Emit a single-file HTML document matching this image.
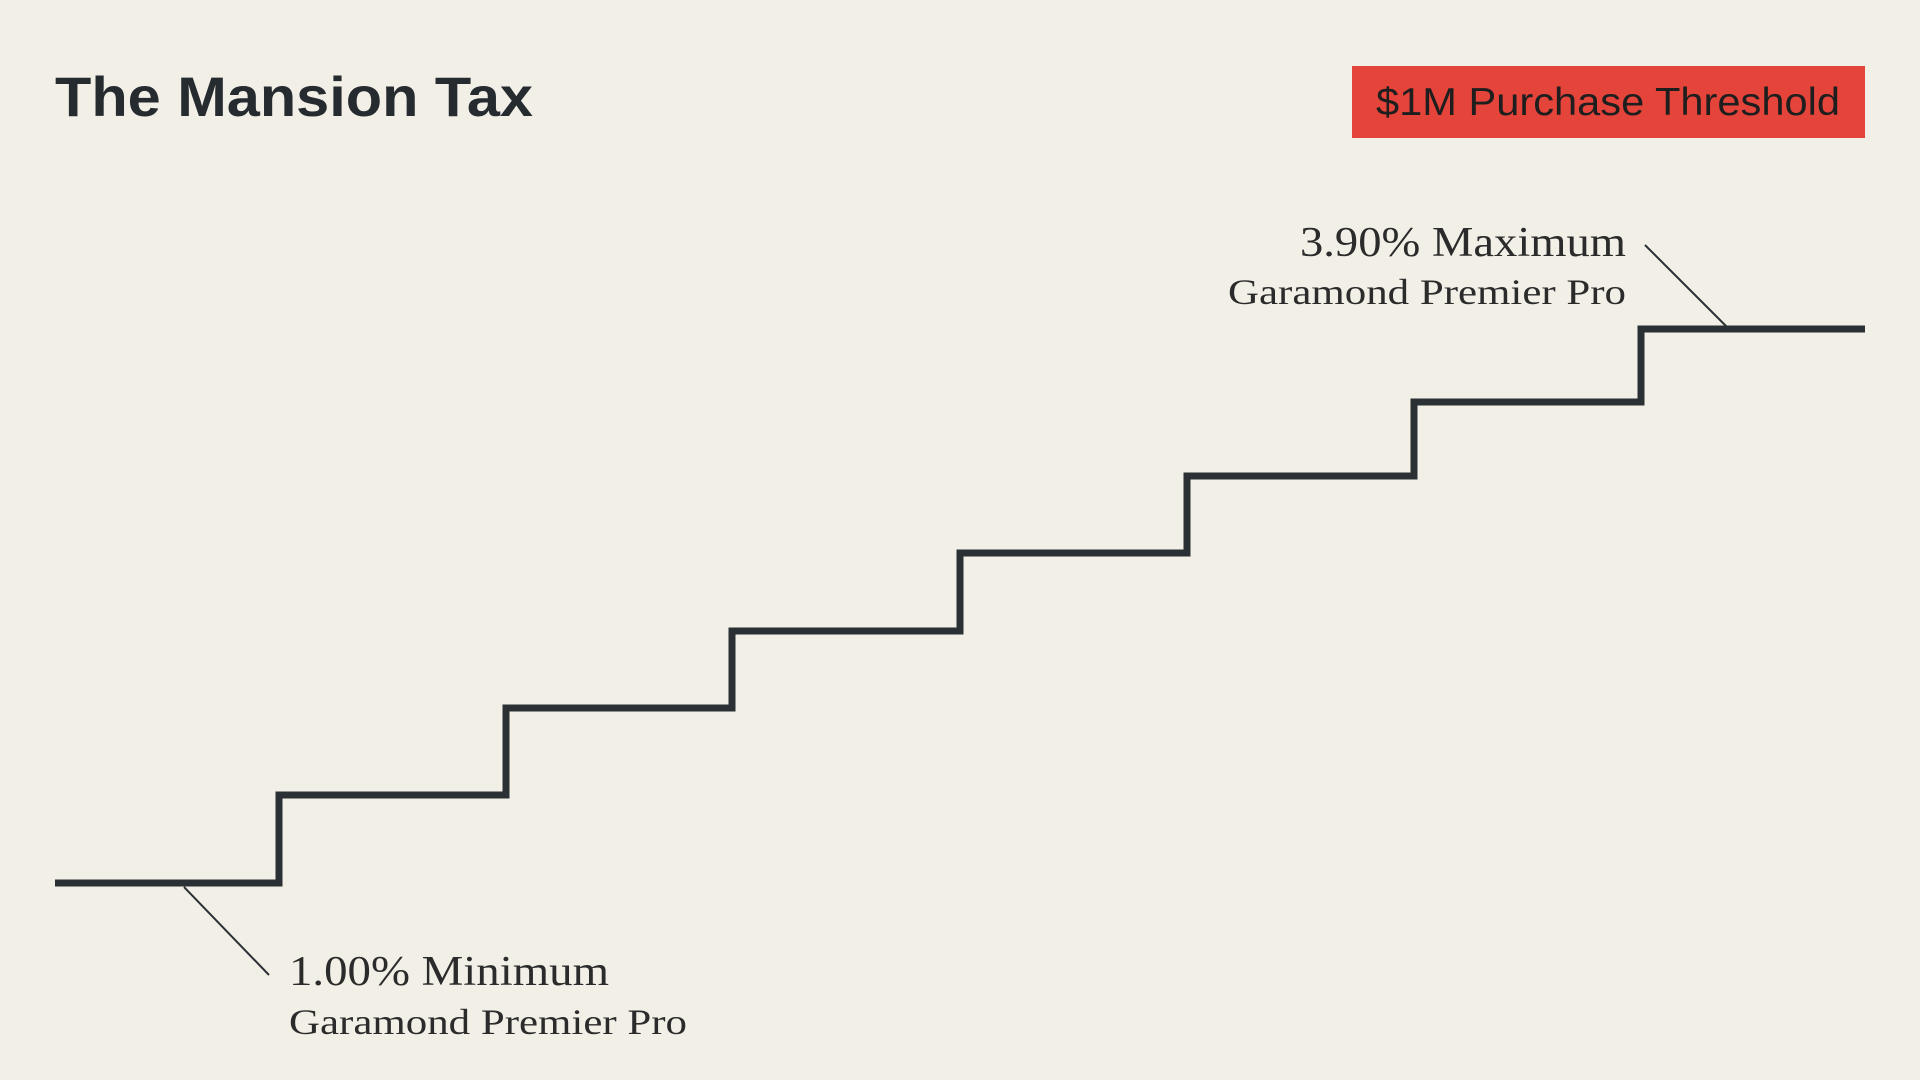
<!DOCTYPE html>
<html><head><meta charset="utf-8"><style>
html,body{margin:0;padding:0;background:#f2efe7;}
body{width:1920px;height:1080px;overflow:hidden;position:relative;}
</style></head><body>
<svg width="1920" height="1080" xmlns="http://www.w3.org/2000/svg" style="position:absolute;left:0;top:0">
<rect width="1920" height="1080" fill="#f2efe7"/>
<text x="55" y="116" font-family="Liberation Sans, sans-serif" font-weight="bold" font-size="56" fill="#262b30" textLength="478" lengthAdjust="spacingAndGlyphs">The Mansion Tax</text>
<rect x="1352" y="66" width="513" height="72" fill="#e5443a"/>
<text x="1376" y="115" font-family="Liberation Sans, sans-serif" font-size="39" fill="#1e1e1e" textLength="464" lengthAdjust="spacingAndGlyphs">$1M Purchase Threshold</text>
<polyline fill="none" stroke="#2b3035" stroke-width="7" stroke-linejoin="miter"
 points="55,883 279,883 279,795 506,795 506,708 732,708 732,631 960,631 960,553 1187,553 1187,476 1414,476 1414,402 1641,402 1641,329 1865,329"/>
<line x1="184" y1="887" x2="269" y2="975" stroke="#2b3035" stroke-width="2"/>
<line x1="1645" y1="245" x2="1728" y2="328" stroke="#2b3035" stroke-width="2"/>
<text x="289" y="985" font-family="Liberation Serif, serif" font-size="42" fill="#2b2b2b" textLength="320" lengthAdjust="spacingAndGlyphs">1.00% Minimum</text>
<text x="289" y="1034" font-family="Liberation Serif, serif" font-size="36" fill="#2b2b2b" textLength="398" lengthAdjust="spacingAndGlyphs">Garamond Premier Pro</text>
<text x="1626" y="256" text-anchor="end" font-family="Liberation Serif, serif" font-size="42" fill="#2b2b2b" textLength="326" lengthAdjust="spacingAndGlyphs">3.90% Maximum</text>
<text x="1626" y="304" text-anchor="end" font-family="Liberation Serif, serif" font-size="36" fill="#2b2b2b" textLength="398" lengthAdjust="spacingAndGlyphs">Garamond Premier Pro</text>
</svg>
</body></html>
